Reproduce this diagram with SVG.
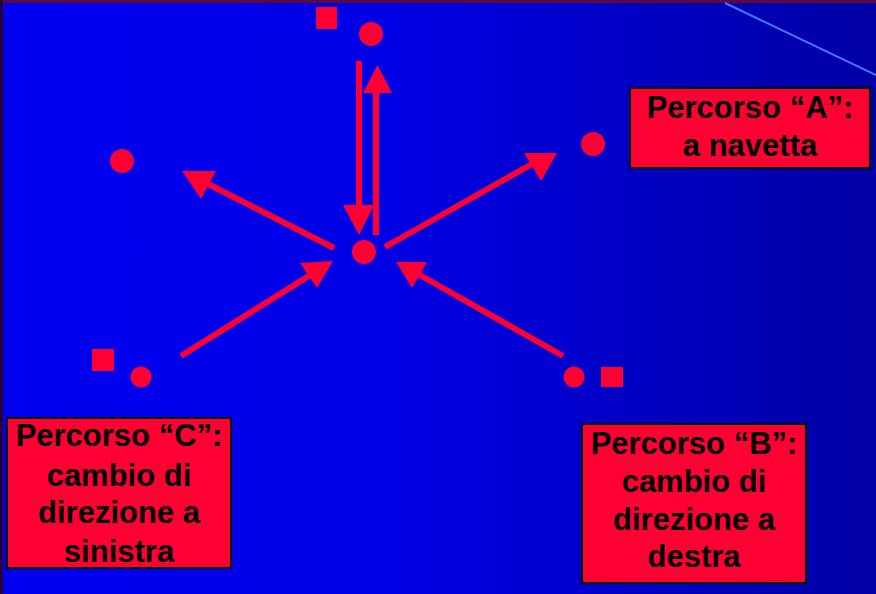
<svg xmlns="http://www.w3.org/2000/svg" width="876" height="594" viewBox="0 0 876 594">
<defs>
<linearGradient id="bg" x1="0" y1="0" x2="1" y2="0">
<stop offset="0" stop-color="#0000f2"/>
<stop offset="0.45" stop-color="#0000e4"/>
<stop offset="1" stop-color="#0000a4"/>
</linearGradient>
<style>
.red{fill:#ff0033}
.ln{stroke:#ff0033;stroke-width:6;fill:none}
.box{fill:#ff0033;stroke:#000;stroke-width:2}
.t{font-family:"Liberation Sans",Arial,sans-serif;font-weight:bold;font-size:31px;fill:#000;text-anchor:middle}
</style>
</defs>
<rect width="876" height="594" fill="url(#bg)"/>
<rect x="0" y="0" width="876" height="3" fill="#5c0a3c"/>
<rect x="0" y="0" width="3" height="594" fill="#2a0030"/>
<line x1="725" y1="3" x2="876" y2="75" stroke="#3f78ff" stroke-width="2"/>

<g id="top-marker">
<rect class="red" x="316" y="7" width="21" height="22"/>
<circle class="red" cx="371" cy="34" r="12"/>
</g>
<g id="center"><circle class="red" cx="364" cy="252" r="12"/></g>
<g id="left-top"><circle class="red" cx="122" cy="161" r="12"/></g>
<g id="right-top"><circle class="red" cx="593" cy="144" r="12"/></g>
<g id="left-bottom">
<rect class="red" x="92" y="349" width="22" height="22"/>
<circle class="red" cx="141" cy="377" r="10.5"/>
</g>
<g id="right-bottom">
<circle class="red" cx="574" cy="377" r="10.5"/>
<rect class="red" x="601" y="367" width="22" height="20"/>
</g>

<g id="connectors">
<line class="ln" x1="359" y1="61" x2="359" y2="207"/>
<polygon class="red" points="343,205 374,205 359,235"/>
<line class="ln" x1="376" y1="235" x2="376" y2="91"/>
<polygon class="red" points="377.5,65 363,93 392,93"/>
<line class="ln" x1="334" y1="248" x2="208" y2="184"/>
<polygon class="red" points="182,171 216,171 201,199"/>
<line class="ln" x1="385" y1="247" x2="532" y2="164"/>
<polygon class="red" points="524,153 557,153 541,181"/>
<line class="ln" x1="181" y1="356" x2="312" y2="274"/>
<polygon class="red" points="300,263 333,261 317,288"/>
<line class="ln" x1="563" y1="356" x2="418" y2="274"/>
<polygon class="red" points="396,262 427,262 412,288"/>
</g>

<g id="box-a">
<rect class="box" x="630" y="88" width="240" height="80"/>
<text class="t" x="750" y="118">Percorso “A”:</text>
<text class="t" x="750" y="156">a navetta</text>
</g>
<g id="box-c">
<rect class="box" x="7" y="418" width="224" height="150"/>
<text class="t" x="119" y="446">Percorso “C”:</text>
<text class="t" x="119" y="486">cambio di</text>
<text class="t" x="119" y="523">direzione a</text>
<text class="t" x="119" y="562">sinistra</text>
</g>
<g id="box-b">
<rect class="box" x="582" y="424" width="224" height="159"/>
<text class="t" x="694" y="454">Percorso “B”:</text>
<text class="t" x="694" y="492">cambio di</text>
<text class="t" x="694" y="530">direzione a</text>
<text class="t" x="694" y="567">destra</text>
</g>
</svg>
